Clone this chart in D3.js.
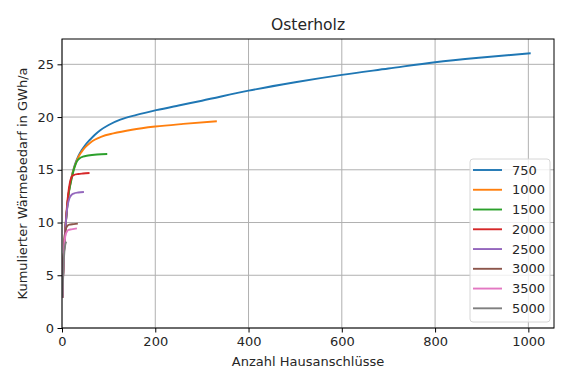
<!DOCTYPE html>
<html>
<head>
<meta charset="utf-8">
<script src="https://cdn.jsdelivr.net/npm/d3@7"></script>
<style>
	body{margin:0;background:#fff;}
	text{font-family:"DejaVu Sans",sans-serif;fill:#262626;}
</style>
</head>
<body>
<script>
// Osterholz - kumulierter Waermebedarf je Szenario
var titel = "Osterholz";
var xLabel = "Anzahl Hausanschlüsse";
var yLabel = "Kumulierter Wärmebedarf in GWh/a";
var szenarien = ["750", "1000", "1500", "2000", "2500", "3000", "3500", "5000"];
var farben = ["#1f77b4", "#ff7f0e", "#2ca02c", "#d62728", "#9467bd", "#8c564b", "#e377c2", "#7f7f7f"];
var xTicks = [0, 200, 400, 600, 800, 1000];
var yTicks = [0, 5, 10, 15, 20, 25];

// [Hausanschluesse, GWh/a]
var s750 = [[1,2.9],[2,4.6],[3,5.9],[4,7.0],[6,8.7],[9,10.4],[13,12.3],[20,14.2],[27,15.4],[35,16.3],[42,16.85],[50,17.35],[60,17.85],[70,18.3],[82,18.75],[100,19.25],[125,19.75],[160,20.2],[202,20.65],[250,21.1],[300,21.55],[400,22.5],[500,23.3],[600,24.0],[700,24.6],[800,25.2],[900,25.65],[1005,26.05]];
var s1000 = [[1,2.9],[2,4.6],[3,5.9],[4,7.0],[6,8.7],[9,10.4],[13,12.3],[20,14.2],[27,15.3],[35,16.2],[42,16.7],[50,17.15],[60,17.55],[70,17.85],[85,18.15],[110,18.45],[150,18.8],[200,19.1],[260,19.35],[332,19.6]];
var s1500 = [[1,2.9],[2,4.6],[3,5.9],[4,7.0],[6,8.7],[9,10.4],[13,12.3],[20,14.0],[27,15.25],[32,15.8],[38,16.1],[45,16.25],[56,16.35],[75,16.45],[97,16.5]];
var s2000 = [[1,2.9],[2,4.6],[3,5.9],[4,7.0],[6,8.7],[9,10.6],[13,12.6],[17,13.8],[21,14.35],[25,14.5],[35,14.6],[45,14.65],[59,14.7]];
var s2500 = [[1,2.9],[2,4.5],[3,5.8],[4,6.9],[6,8.5],[9,10.4],[12,11.6],[16,12.3],[20,12.6],[25,12.75],[35,12.85],[47,12.9]];
var s3000 = [[1,2.9],[2,4.5],[3,5.8],[4,6.9],[5,7.7],[7,8.9],[9,9.5],[12,9.7],[16,9.8],[25,9.85],[34,9.9]];
var s3500 = [[1,2.9],[2,4.4],[3,5.6],[4,6.8],[5,7.8],[7,8.7],[10,9.1],[14,9.3],[20,9.35],[32,9.45]];
var s5000 = [[1,2.9],[2,4.3],[3,5.5],[4,6.5],[5,7.2],[7,7.9],[9,8.2]];

var reihen = [s750, s1000, s1500, s2000, s2500, s3000, s3500, s5000];

var breite = 566, hoehe = 381;
var m = {left: 62, right: 554, top: 39, bottom: 328};

var svg = d3.select("body").append("svg")
	.attr("width", breite)
	.attr("height", hoehe);

var x = d3.scaleLinear().domain([0, 1055]).range([m.left, m.right]);
var y = d3.scaleLinear().domain([0, 27.4]).range([m.bottom, m.top]);

// Gitter
svg.append("g").selectAll("line").data(xTicks).enter().append("line")
	.attr("x1", function(d){ return x(d); })
	.attr("x2", function(d){ return x(d); })
	.attr("y1", m.top).attr("y2", m.bottom)
	.attr("stroke", "#b0b0b0").attr("stroke-width", 1);
svg.append("g").selectAll("line").data(yTicks).enter().append("line")
	.attr("x1", m.left).attr("x2", m.right)
	.attr("y1", function(d){ return y(d); })
	.attr("y2", function(d){ return y(d); })
	.attr("stroke", "#b0b0b0").attr("stroke-width", 1);

// Kurven
var linie = d3.line()
	.x(function(d){ return x(d[0]); })
	.y(function(d){ return y(d[1]); })
	.curve(d3.curveMonotoneX);

var plot = svg.append("g");
plot.append("clipPath").attr("id", "clip").append("rect")
	.attr("x", m.left).attr("y", m.top)
	.attr("width", m.right - m.left).attr("height", m.bottom - m.top);
for(var i = 0; i < reihen.length; i++){
	plot.append("path")
		.attr("d", linie(reihen[i]))
		.attr("fill", "none")
		.attr("stroke", farben[i])
		.attr("stroke-width", 1.9)
		.attr("stroke-linejoin", "round")
		.attr("clip-path", "url(#clip)");
}

// Achsen
var xAchse = svg.append("g")
	.attr("transform", "translate(0," + m.bottom + ")")
	.call(d3.axisBottom(x).tickValues(xTicks).tickFormat(d3.format("d")).tickSize(4.5).tickPadding(4));
var yAchse = svg.append("g")
	.attr("transform", "translate(" + m.left + ",0)")
	.call(d3.axisLeft(y).tickValues(yTicks).tickFormat(d3.format("d")).tickSize(4.5).tickPadding(3.5));
[xAchse, yAchse].forEach(function(a){
	a.select(".domain").remove();
	a.selectAll("line").attr("stroke", "#000").attr("stroke-width", 1);
	a.selectAll("text").style("font-family", "DejaVu Sans").style("font-size", "13px").attr("fill", "#262626");
});

// Rahmen
svg.append("rect")
	.attr("x", m.left).attr("y", m.top)
	.attr("width", m.right - m.left).attr("height", m.bottom - m.top)
	.attr("fill", "none").attr("stroke", "#000").attr("stroke-width", 1);

// Beschriftung
svg.append("text")
	.attr("x", (m.left + m.right) / 2).attr("y", 30)
	.attr("text-anchor", "middle")
	.style("font-size", "15.6px")
	.text(titel);
svg.append("text")
	.attr("x", (m.left + m.right) / 2).attr("y", 366)
	.attr("text-anchor", "middle")
	.style("font-size", "13px")
	.text(xLabel);
svg.append("text")
	.attr("transform", "translate(27," + ((m.top + m.bottom) / 2) + ") rotate(-90)")
	.attr("text-anchor", "middle")
	.style("font-size", "13px")
	.text(yLabel);

// Legende
var leg = svg.append("g");
leg.append("rect")
	.attr("x", 470).attr("y", 159)
	.attr("width", 80).attr("height", 163)
	.attr("rx", 3)
	.attr("fill", "#fff").attr("fill-opacity", 0.8)
	.attr("stroke", "#d6d6d6").attr("stroke-width", 1);
szenarien.forEach(function(s, i){
	var ly = 170 + i * 19.76;
	leg.append("line")
		.attr("x1", 473).attr("x2", 502)
		.attr("y1", ly).attr("y2", ly)
		.attr("stroke", farben[i]).attr("stroke-width", 1.9);
	leg.append("text")
		.attr("x", 512).attr("y", ly).attr("dy", "0.35em")
		.style("font-size", "13px")
		.text(s);
});
</script>
</body>
</html>
